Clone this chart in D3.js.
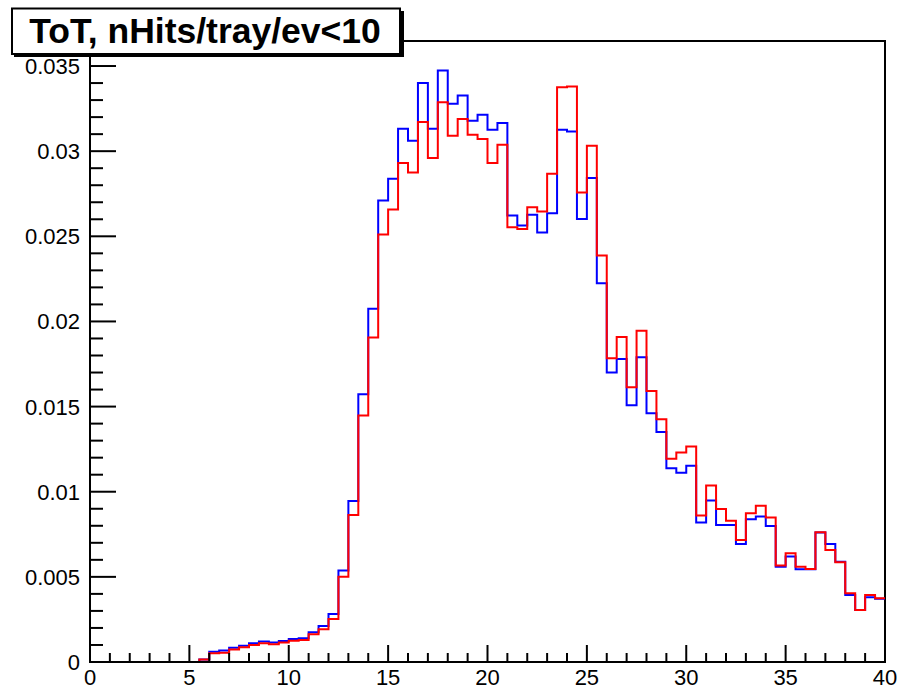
<!DOCTYPE html>
<html>
<head>
<meta charset="utf-8">
<script src="https://cdn.jsdelivr.net/npm/d3@7"></script>
<style>
  html, body { margin: 0; padding: 0; background: #fff; }
  svg { display: block; }
  text { font-family: "Liberation Sans", Arial, Helvetica, sans-serif; }
</style>
</head>
<body>
<svg id="chart" width="900" height="689"></svg>
<script>
// ---- data ----
const titleText = "ToT, nHits/tray/ev<10";
const binLow = 0;
const binWidth = 0.5;
const blueValues = [
  0, 0, 0, 0, 0, 0, 0, 0, 0, 0,
  0, 0.00015, 0.0006, 0.00067, 0.00084, 0.00096, 0.0011, 0.00121, 0.00114, 0.00123,
  0.00135, 0.00139, 0.00174, 0.00211, 0.00282, 0.00537, 0.00946, 0.01573, 0.02074, 0.0271,
  0.02838, 0.03132, 0.03061, 0.0340, 0.03132, 0.03474, 0.03278, 0.03327, 0.03179, 0.03214,
  0.03126, 0.03165, 0.02622, 0.02563, 0.02626, 0.02523, 0.02636, 0.03126, 0.03116, 0.02601,
  0.02842, 0.02225, 0.0170, 0.0178, 0.01508, 0.0179, 0.01461, 0.01351, 0.01138, 0.01112,
  0.01153, 0.00819, 0.00948, 0.00805, 0.00805, 0.00693, 0.00838, 0.00854, 0.00799, 0.0056,
  0.00619, 0.00544, 0.00544, 0.0076, 0.00693, 0.00589, 0.00394, 0.00306, 0.0038, 0.00372
];
const redValues = [
  0, 0, 0, 0, 0, 0, 0, 0, 0, 0,
  0, 0.00014, 0.00051, 0.00055, 0.00074, 0.00086, 0.001, 0.0011, 0.00104, 0.00114,
  0.00125, 0.00129, 0.00163, 0.00192, 0.00253, 0.00501, 0.00864, 0.01447, 0.01905, 0.02511,
  0.02658, 0.0293, 0.02875, 0.03171, 0.0296, 0.03288, 0.0309, 0.03189, 0.03096, 0.03071,
  0.0293, 0.03038, 0.02553, 0.02543, 0.02671, 0.02646, 0.02867, 0.03376, 0.0338, 0.02758,
  0.03032, 0.02387, 0.01784, 0.01908, 0.01614, 0.01945, 0.01592, 0.01426, 0.01193, 0.0123,
  0.01265, 0.0086, 0.01036, 0.00899, 0.0083, 0.00717, 0.00873, 0.00917, 0.00848, 0.00566,
  0.00638, 0.0056, 0.00546, 0.00762, 0.00658, 0.00586, 0.00404, 0.00306, 0.00394, 0.00374
];
const xTickValues = [0, 5, 10, 15, 20, 25, 30, 35, 40];
const yTickValues = [0, 0.005, 0.01, 0.015, 0.02, 0.025, 0.03, 0.035];
const yTickLabels = ["0", "0.005", "0.01", "0.015", "0.02", "0.025", "0.03", "0.035"];
const xDomain = [0, 40];
const yDomain = [0, 0.03647];

// ---- layout ----
const L = 90, R = 885, T = 41, B = 662;
const svg = d3.select("#chart");

const x = d3.scaleLinear().domain(xDomain).range([L, R]);
const y = d3.scaleLinear().domain(yDomain).range([B, T]);

// frame
svg.append("rect")
  .attr("x", L).attr("y", T).attr("width", R - L).attr("height", B - T)
  .attr("fill", "none").attr("stroke", "#000").attr("stroke-width", 2);

// histograms
function stepPoints(vals) {
  const pts = vals.map((v, i) => [binLow + i * binWidth, v]);
  pts.push([binLow + vals.length * binWidth, vals[vals.length - 1]]);
  return pts;
}
const line = d3.line().x(d => x(d[0])).y(d => y(d[1])).curve(d3.curveStepAfter);

svg.append("path").datum(stepPoints(blueValues))
  .attr("d", line).attr("fill", "none").attr("stroke", "#0000ff").attr("stroke-width", 2);
svg.append("path").datum(stepPoints(redValues))
  .attr("d", line).attr("fill", "none").attr("stroke", "#ff0000").attr("stroke-width", 2);

// x axis
const xMinor = d3.range(xDomain[0], xDomain[1] + 0.001, 1).filter(v => xTickValues.indexOf(v) < 0);
const xAxis = svg.append("g");
xAxis.append("line").attr("x1", L).attr("x2", R).attr("y1", B).attr("y2", B)
  .attr("stroke", "#000").attr("stroke-width", 2);
xAxis.selectAll("line.maj").data(xTickValues).enter().append("line")
  .attr("x1", d => x(d)).attr("x2", d => x(d)).attr("y1", B).attr("y2", B - 17)
  .attr("stroke", "#000").attr("stroke-width", 2);
xAxis.selectAll("line.min").data(xMinor).enter().append("line")
  .attr("x1", d => x(d)).attr("x2", d => x(d)).attr("y1", B).attr("y2", B - 9)
  .attr("stroke", "#000").attr("stroke-width", 2);
xAxis.selectAll("text").data(xTickValues).enter().append("text")
  .attr("x", d => x(d)).attr("y", 684.5)
  .attr("text-anchor", "middle").attr("font-size", 22).text(d => d);

// y axis
const yMinor = d3.range(0, yDomain[1], 0.001).filter(v => !yTickValues.some(t => Math.abs(t - v) < 1e-6));
const yAxis = svg.append("g");
yAxis.append("line").attr("x1", L).attr("x2", L).attr("y1", T).attr("y2", B)
  .attr("stroke", "#000").attr("stroke-width", 2);
yAxis.selectAll("line.maj").data(yTickValues).enter().append("line")
  .attr("x1", L).attr("x2", L + 26).attr("y1", d => y(d)).attr("y2", d => y(d))
  .attr("stroke", "#000").attr("stroke-width", 2);
yAxis.selectAll("line.min").data(yMinor).enter().append("line")
  .attr("x1", L).attr("x2", L + 13).attr("y1", d => y(d)).attr("y2", d => y(d))
  .attr("stroke", "#000").attr("stroke-width", 2);
yAxis.selectAll("text").data(yTickValues).enter().append("text")
  .attr("x", 80).attr("y", d => y(d) + 8)
  .attr("text-anchor", "end").attr("font-size", 22).text((d, i) => yTickLabels[i]);

// title box
svg.append("rect").attr("x", 14).attr("y", 11).attr("width", 390).attr("height", 46).attr("fill", "#000");
svg.append("rect").attr("x", 12).attr("y", 8.5).attr("width", 388).attr("height", 45.5)
  .attr("fill", "#fff").attr("stroke", "#000").attr("stroke-width", 2);
svg.append("text").attr("x", 205).attr("y", 43)
  .attr("text-anchor", "middle").attr("font-size", 35.5).attr("font-weight", "bold")
  .text(titleText);
</script>
</body>
</html>
